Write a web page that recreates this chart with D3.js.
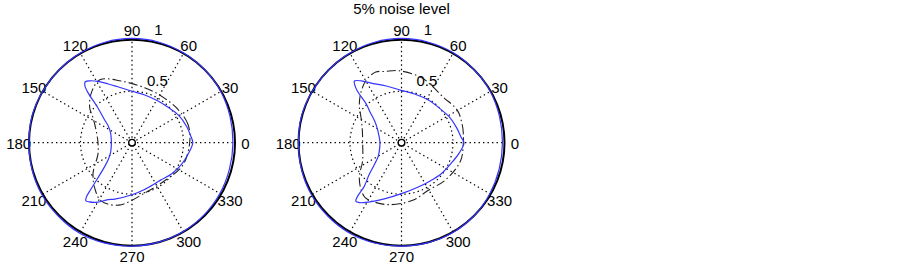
<!DOCTYPE html>
<html>
<head>
<meta charset="utf-8">
<script src="https://cdn.jsdelivr.net/npm/d3@7"></script>
<style>
  body { margin: 0; background: #fff; }
  svg { display: block; }
</style>
</head>
<body>
<div id="chart"></div>
<script>
// ---- data (angle in degrees, radius) ----
const spokeAngles = [0, 30, 60, 90, 120, 150];
const angleLabels = [0, 30, 60, 90, 120, 150, 180, 210, 240, 270, 300, 330];
const ringTicks = [0.5, 1];
const titles = ["", "5% noise level"];

// left plot: estimated boundary (blue), true boundary (dash-dot), outer estimate (blue)
const leftBlue = [[0,0.59],[8,0.57],[16,0.555],[31,0.524],[45,0.49],[58,0.477],[75,0.48],[90,0.5],
  [105,0.565],[112,0.615],[119,0.68],[124,0.725],[127.5,0.746],[129.5,0.72],[131.3,0.65],[134.2,0.48],
  [140,0.35],[145,0.28],[155,0.23],[165,0.21],[180,0.2],[195,0.21],[205,0.23],[215,0.28],[221,0.35],
  [226,0.48],[228.5,0.6],[230,0.69],[231.5,0.72],[234,0.71],[240,0.667],[247,0.6],[253,0.572],
  [270,0.505],[285,0.47],[300,0.455],[308,0.458],[322,0.49],[336,0.524],[350,0.56]];
const leftDash = [[0,0.56],[18,0.572],[36,0.551],[58,0.535],[77,0.548],[100,0.608],[117,0.686],
  [129,0.626],[140.4,0.533],[147.3,0.45],[162,0.365],[180,0.33],[199,0.35],[218,0.48],[232,0.58],
  [242,0.64],[258,0.62],[286,0.5],[314,0.49],[336,0.54]];
const leftOuter = [[0,0.98],[15,0.985],[30,0.995],[45,1.0],[60,1.005],[75,1.01],[90,1.012],[105,1.01],
  [120,1.005],[135,1.0],[150,1.0],[165,1.005],[180,1.0],[195,1.005],[210,1.01],[225,1.01],[240,1.015],
  [255,1.01],[270,1.005],[285,1.0],[300,0.995],[315,0.99],[330,0.985],[345,0.98]];

// right plot (5% noise)
const rightBlue = [[0,0.607],[5.5,0.58],[15,0.555],[28.3,0.527],[45,0.495],[56.7,0.49],[75,0.49],
  [90.5,0.508],[105,0.57],[117,0.65],[123,0.715],[127.4,0.754],[129,0.72],[130.5,0.66],[132.3,0.51],
  [136,0.42],[140.6,0.34],[150,0.27],[165,0.225],[180,0.209],[195,0.22],[210,0.26],[219,0.34],
  [225,0.45],[229.6,0.56],[230.8,0.68],[232,0.72],[235,0.71],[239.3,0.674],[253,0.57],[270,0.495],
  [290,0.46],[305.7,0.463],[322,0.49],[340,0.53],[350,0.57]];
const rightDash = [[0,0.6],[8.9,0.607],[14.4,0.613],[30,0.627],[47,0.6],[72.7,0.66],[92.5,0.7],
  [103,0.71],[110,0.73],[119,0.7],[128.6,0.63],[138.5,0.547],[149,0.457],[162,0.4],[180,0.377],
  [205.7,0.42],[218.6,0.524],[229,0.6],[236.6,0.64],[244,0.635],[258,0.615],[281,0.57],[299,0.53],
  [320,0.56],[343,0.6]];
const rightOuter = [[0,0.98],[15,0.985],[30,0.995],[45,1.0],[60,1.008],[75,1.01],[90,1.012],[105,1.01],
  [120,1.005],[135,1.0],[150,1.0],[165,1.005],[180,1.0],[195,1.005],[210,1.01],[225,1.01],[240,1.012],
  [255,1.008],[270,1.005],[285,1.005],[300,1.005],[315,1.0],[330,0.99],[345,0.982]];

const width = 903, height = 265;
const R = 103;
const fontSize = 15;
const rScale = d3.scaleLinear().domain([0, 1]).range([0, R]);
const rad = d => d * Math.PI / 180;

const svg = d3.select("#chart").append("svg")
  .attr("width", width)
  .attr("height", height)
  .style("font-family", "Arial, 'Liberation Sans', sans-serif")
  .style("font-size", fontSize + "px");

const radial = d3.lineRadial()
  .angle(d => Math.PI / 2 - rad(d[0]))
  .radius(d => rScale(d[1]))
  .curve(d3.curveCatmullRomClosed.alpha(0.5));

function drawPolar(cx, cy, title, blue, dash, outer) {
  const g = svg.append("g").attr("transform", `translate(${cx},${cy})`);

  // dotted spokes
  g.selectAll(".spoke").data(spokeAngles).join("line")
    .attr("x1", d => -rScale(1) * Math.cos(rad(d)))
    .attr("y1", d => rScale(1) * Math.sin(rad(d)))
    .attr("x2", d => rScale(1) * Math.cos(rad(d)))
    .attr("y2", d => -rScale(1) * Math.sin(rad(d)))
    .attr("stroke", "#000").attr("stroke-width", 1.2)
    .attr("stroke-dasharray", "1.4,3.1");

  // dotted inner ring
  g.selectAll(".ring").data(ringTicks.filter(t => t < 1)).join("circle")
    .attr("r", d => rScale(d))
    .attr("fill", "none").attr("stroke", "#000").attr("stroke-width", 1.2)
    .attr("stroke-dasharray", "1.4,3.1");

  // outer circle
  g.append("circle").attr("r", rScale(1))
    .attr("fill", "none").attr("stroke", "#000").attr("stroke-width", 2);

  // angle labels
  g.selectAll(".alab").data(angleLabels).join("text")
    .attr("x", d => rScale(1.1) * Math.cos(rad(d)))
    .attr("y", d => -rScale(1.1) * Math.sin(rad(d)) + 1)
    .attr("text-anchor", "middle")
    .attr("dominant-baseline", "central")
    .attr("fill", "#000")
    .text(d => d);

  // ring labels at 82 degrees
  g.selectAll(".rlab").data(ringTicks).join("text")
    .attr("x", d => rScale(d + 0.025) * Math.cos(rad(82)) + 7.5)
    .attr("y", d => -rScale(d + 0.025) * Math.sin(rad(82)) - 3)
    .attr("fill", "#000")
    .text(d => d);

  // true boundary, dash-dot
  g.append("path").datum(dash)
    .attr("d", radial)
    .attr("fill", "none").attr("stroke", "#222").attr("stroke-width", 1.1)
    .attr("stroke-dasharray", "9,3,1.5,3");

  // estimated boundaries
  g.append("path").datum(blue)
    .attr("d", radial)
    .attr("fill", "none").attr("stroke", "#3535ff").attr("stroke-width", 1.2);
  g.append("path").datum(outer)
    .attr("d", radial)
    .attr("fill", "none").attr("stroke", "#3535ff").attr("stroke-width", 1.2);

  // small marker at origin
  g.append("circle").attr("r", 3.3)
    .attr("fill", "#fff").attr("stroke", "#000").attr("stroke-width", 1.4);

  if (title) {
    svg.append("text")
      .attr("x", cx).attr("y", 14)
      .attr("text-anchor", "middle")
      .attr("fill", "#000")
      .text(title);
  }
}

drawPolar(132, 142.7, titles[0], leftBlue, leftDash, leftOuter);
drawPolar(401.5, 142.7, titles[1], rightBlue, rightDash, rightOuter);
</script>
</body>
</html>
